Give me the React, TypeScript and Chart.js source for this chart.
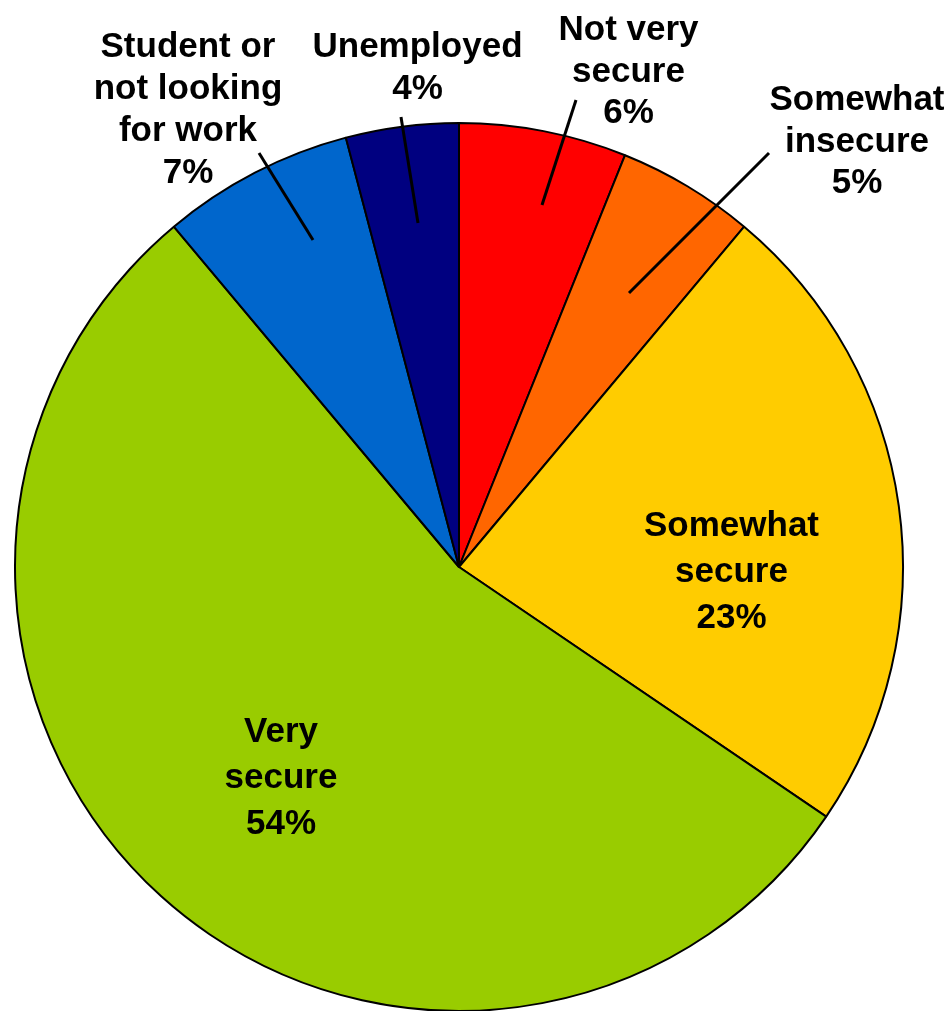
import React, { useEffect, useRef } from "react";
import { Chart, registerables } from "chart.js";

Chart.register(...registerables);

// ---- data ----
const categories: string[][] = [
  ["Not very", "secure"],
  ["Somewhat", "insecure"],
  ["Somewhat", "secure"],
  ["Very", "secure"],
  ["Student or", "not looking", "for work"],
  ["Unemployed"],
];
const shares: number[] = [6.1, 5.0, 23.4, 54.4, 7.0, 4.1];
const sliceColors: string[] = ["#FF0000", "#FF6600", "#FFCC00", "#99CC00", "#0066CC", "#000080"];

// ---- label layout (offsets from pie centre, px) ----
type LabelLayout = {
  dx: number;
  dy: number;
  lineHeight: number;
  leader?: [number, number, number, number];
};
const labelLayout: LabelLayout[] = [
  { dx: 169.5, dy: -527, lineHeight: 41.7, leader: [117, -467, 83, -362] },
  { dx: 398, dy: -457, lineHeight: 41.7, leader: [310, -414, 170, -274] },
  { dx: 272.5, dy: -31, lineHeight: 46 },
  { dx: -178, dy: 175, lineHeight: 46 },
  { dx: -271, dy: -510, lineHeight: 42, leader: [-200, -414, -146, -327] },
  { dx: -41.5, dy: -510, lineHeight: 42, leader: [-58, -450, -41, -344] },
];

const labelPlugin = {
  id: "pieLabels",
  afterDatasetsDraw(chart: any) {
    const ctx = chart.ctx as CanvasRenderingContext2D;
    const meta = chart.getDatasetMeta(0);
    const data = chart.data.datasets[0].data as number[];
    const total = data.reduce((a, b) => a + b, 0);
    const first = meta.data[0];
    if (!first) return;
    const cx = first.x;
    const cy = first.y;
    ctx.save();
    // leaders
    ctx.strokeStyle = "#000";
    ctx.lineWidth = 3;
    ctx.lineCap = "butt";
    labelLayout.forEach((l) => {
      if (!l.leader) return;
      const [x1, y1, x2, y2] = l.leader;
      ctx.beginPath();
      ctx.moveTo(cx + x1, cy + y1);
      ctx.lineTo(cx + x2, cy + y2);
      ctx.stroke();
    });
    // text
    ctx.fillStyle = "#000";
    ctx.font = "bold 35px 'Liberation Sans', Arial, sans-serif";
    ctx.textAlign = "center";
    ctx.textBaseline = "alphabetic";
    categories.forEach((lines, i) => {
      const l = labelLayout[i];
      const pct = Math.round((data[i] / total) * 100) + "%";
      const all = [...lines, pct];
      all.forEach((t, j) => {
        ctx.fillText(t, cx + l.dx, cy + l.dy + j * l.lineHeight);
      });
    });
    ctx.restore();
  },
};

export default function App() {
  const ref = useRef<HTMLCanvasElement | null>(null);
  useEffect(() => {
    if (!ref.current) return;
    const chart = new Chart(ref.current, {
      type: "pie",
      data: {
        labels: categories.map((c) => c.join(" ")),
        datasets: [
          {
            data: shares,
            backgroundColor: sliceColors,
            borderColor: "#000000",
            borderWidth: 2,
          },
        ],
      },
      options: {
        animation: false,
        responsive: false,
        maintainAspectRatio: false,
        radius: 444,
        layout: { padding: { left: 0, right: 34, top: 123, bottom: 0 } },
        plugins: {
          legend: { display: false },
          tooltip: { enabled: false },
          title: { display: false },
        },
      } as any,
      plugins: [labelPlugin],
    });
    return () => chart.destroy();
  }, []);
  return (
    <div style={{ position: "fixed", left: 0, top: 0, width: 952, height: 1011, background: "#fff" }}>
      <canvas ref={ref} width={952} height={1011} style={{ width: 952, height: 1011, display: "block" }} />
    </div>
  );
}
